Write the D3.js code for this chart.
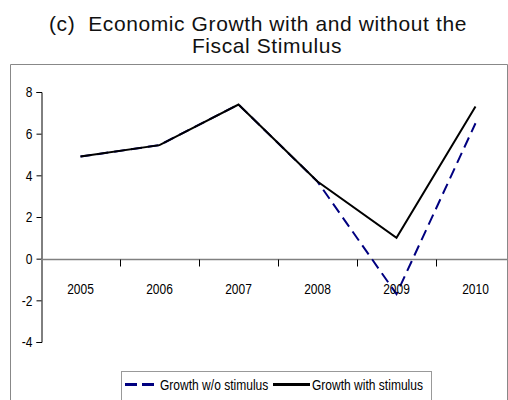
<!DOCTYPE html>
<html>
<head>
<meta charset="utf-8">
<script src="https://cdn.jsdelivr.net/npm/d3@7"></script>
<style>
  body { margin: 0; background: #fff; }
  .title { white-space: pre; }
</style>
</head>
<body>
<div id="chart"></div>
<script>
const width = 508;
const height = 400;

// data
const years = ["2005", "2006", "2007", "2008", "2009", "2010"];
const withoutStimulus = [4.9, 5.45, 7.4, 3.7, -1.7, 6.5];
const withStimulus = [4.9, 5.45, 7.4, 3.7, 1.0, 7.3];
const yTicks = [-4, -2, 0, 2, 4, 6, 8];
const titleLines = ["(c)  Economic Growth with and without the", "Fiscal Stimulus"];
const legendLabels = ["Growth w/o stimulus", "Growth with stimulus"];

const margin = { left: 41, top: 92, bottom: 58 };
const narrowFont = "Liberation Sans, Arial, sans-serif";
const squeeze = 0.8; // fake Arial Narrow

const svg = d3.select("#chart")
  .append("svg")
  .attr("width", width)
  .attr("height", height)

// title (second line sits a bit right of centre in the original)
svg.selectAll(".title")
  .data(titleLines)
  .join("text")
  .attr("class", "title")
  .attr("x", (d, i) => i === 0 ? 258 : 267)
  .attr("y", (d, i) => 31 + i * 22)
  .attr("text-anchor", "middle")
  .attr("font-family", "Liberation Sans, Arial, sans-serif")
  .attr("font-size", 21)
  .attr("letter-spacing", 0.6)
  .attr("fill", "#111")
  .text(d => d)

// chart frame
svg.append("path")
  .attr("d", `M10.5,${height} V64.5 H507.5 V${height}`)
  .attr("fill", "none")
  .attr("stroke", "#888")
  .attr("stroke-width", 1)

// scales
const xScale = d3.scaleBand()
  .domain(years)
  .range([margin.left, margin.left + 79 * 6])

const yScale = d3.scaleLinear()
  .domain([-4, 8])
  .range([height - margin.bottom, margin.top])

// y axis
const yAxis = d3.axisLeft(yScale)
  .tickValues(yTicks)
  .tickFormat(d => String(d))
  .tickSize(5)
  .tickSizeOuter(5)
  .tickPadding(4)

const yAxisGroup = svg.append("g")
  .attr("transform", `translate(${margin.left + 0.5}, 0)`)
  .call(yAxis)
yAxisGroup.selectAll("text")
  .attr("font-family", narrowFont)
  .attr("font-size", 15)
  .attr("fill", "#000")
  .attr("x", -9 / squeeze)
  .attr("transform", `scale(${squeeze},1)`)
yAxisGroup.select(".domain").attr("stroke", "#000")

// x axis at zero line
const y0 = Math.round(yScale(0)) + 0.5;
svg.append("line")
  .attr("x1", margin.left)
  .attr("x2", 507)
  .attr("y1", y0)
  .attr("y2", y0)
  .attr("stroke", "#808080")
  .attr("stroke-width", 1.3)

// boundary ticks between years
svg.selectAll(".xtick")
  .data(years.slice(1))
  .join("line")
  .attr("class", "xtick")
  .attr("x1", d => Math.round(xScale(d)) + 0.5)
  .attr("x2", d => Math.round(xScale(d)) + 0.5)
  .attr("y1", y0)
  .attr("y2", y0 + 7)
  .attr("stroke", "#000")

// lines
const line = d3.line()
  .x((d, i) => xScale(years[i]) + xScale.bandwidth() / 2)
  .y(d => yScale(d))

svg.append("path")
  .datum(withoutStimulus)
  .attr("d", line)
  .attr("fill", "none")
  .attr("stroke", "#000080")
  .attr("stroke-width", 2)
  .attr("stroke-dasharray", "11,6")

svg.append("path")
  .datum(withStimulus)
  .attr("d", line)
  .attr("fill", "none")
  .attr("stroke", "#000")
  .attr("stroke-width", 2)

// x labels (drawn over the lines, as in the original)
svg.selectAll(".xlabel")
  .data(years)
  .join("text")
  .attr("class", "xlabel")
  .attr("transform", d => `translate(${xScale(d) + xScale.bandwidth() / 2},${y0 + 34}) scale(${squeeze},1)`)
  .attr("text-anchor", "middle")
  .attr("font-family", narrowFont)
  .attr("font-size", 15)
  .attr("fill", "#000")
  .text(d => d)

// legend
svg.append("rect")
  .attr("x", 121.5)
  .attr("y", 371.5)
  .attr("width", 310)
  .attr("height", 40)
  .attr("fill", "#fff")
  .attr("stroke", "#999")

const legendItems = [
  { x: 125, w: 33, label: legendLabels[0], color: "#000080", dash: "12,5" },
  { x: 273, w: 37, label: legendLabels[1], color: "#000", dash: null }
];

legendItems.forEach(item => {
  svg.append("line")
    .attr("x1", item.x)
    .attr("x2", item.x + item.w)
    .attr("y1", 384.5)
    .attr("y2", 384.5)
    .attr("stroke", item.color)
    .attr("stroke-width", 3)
    .attr("stroke-dasharray", item.dash)
  svg.append("text")
    .attr("transform", `translate(${item.x + item.w + 2},389.5) scale(0.86,1)`)
    .attr("font-family", narrowFont)
    .attr("font-size", 14)
    .attr("fill", "#000")
    .text(item.label)
})
</script>
</body>
</html>
